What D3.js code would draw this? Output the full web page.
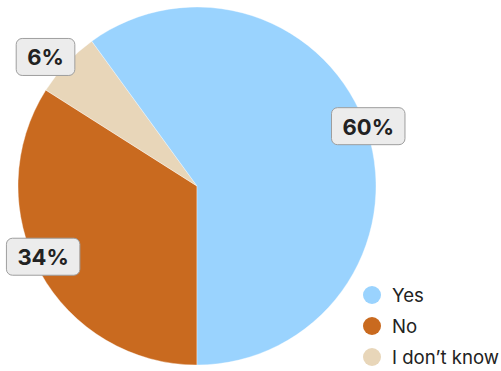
<!DOCTYPE html>
<html lang="en">
<head>
<meta charset="utf-8" />
<script src="https://d3js.org/d3.v7.min.js"></script>
<style>
  body { margin: 0; background: #fff; }
  text { font-family: Inter, "Noto Sans", sans-serif; }
</style>
</head>
<body>
<script>
  // data
  const answers = ["Yes", "No", "I don’t know"];
  const shares = [60, 34, 6];
  const colors = ["#9ad3fe", "#c96a1f", "#e8d6b9"];

  const width = 501, height = 371;
  const cx = 197, cy = 186, radius = 179;

  const svg = d3.select("body").append("svg")
    .attr("width", width)
    .attr("height", height);

  const data = answers.map((a, i) => ({ answer: a, value: shares[i], color: colors[i] }));

  // pie starts at the bottom and runs clockwise: No, I don't know, Yes
  const pieOrder = [1, 2, 0];
  const pie = d3.pie()
    .value(d => d.value)
    .sort(null)
    .startAngle(Math.PI)
    .endAngle(3 * Math.PI);

  const arcs = pie(pieOrder.map(i => data[i]));
  const arc = d3.arc().innerRadius(0).outerRadius(radius);
  const labelArc = d3.arc().innerRadius(radius).outerRadius(radius);

  const g = svg.append("g").attr("transform", `translate(${cx},${cy})`);

  g.selectAll("path.slice")
    .data(arcs)
    .join("path")
    .attr("class", "slice")
    .attr("d", arc)
    .attr("fill", d => d.data.color)
    .attr("stroke", "rgba(255,255,255,0.6)")
    .attr("stroke-width", 0.6);

  // small nudges so the labels sit like the original
  const nudge = { "Yes": [1, -4], "No": [3, -15], "I don’t know": [-21, -6] };

  const labels = g.selectAll("g.lbl")
    .data(arcs)
    .join("g")
    .attr("class", "lbl")
    .attr("transform", d => {
      const [x, y] = labelArc.centroid(d);
      const n = nudge[d.data.answer];
      return `translate(${x + n[0]},${y + n[1]})`;
    });

  labels.append("text")
    .attr("text-anchor", "middle")
    .attr("dy", "0.36em")
    .attr("font-size", 22)
    .attr("font-weight", 700)
    .attr("fill", "#222")
    .text(d => d.data.value + "%");

  labels.each(function () {
    const t = d3.select(this).select("text");
    const bb = t.node().getBBox();
    d3.select(this).insert("rect", "text")
      .attr("x", bb.x - 11)
      .attr("y", -19)
      .attr("width", bb.width + 22)
      .attr("height", 37)
      .attr("rx", 6)
      .attr("fill", "#ececec")
      .attr("stroke", "#9e9e9e")
      .attr("stroke-width", 1);
  });

  // legend
  const legend = svg.append("g").attr("transform", "translate(372,295)");
  const item = legend.selectAll("g")
    .data(data)
    .join("g")
    .attr("transform", (d, i) => `translate(0,${i * 31})`);

  item.append("circle")
    .attr("r", 9)
    .attr("fill", d => d.color);

  item.append("text")
    .attr("x", 20)
    .attr("dy", "0.36em")
    .attr("font-size", 18.6)
    .attr("fill", "#222")
    .text(d => d.answer);
</script>
</body>
</html>
